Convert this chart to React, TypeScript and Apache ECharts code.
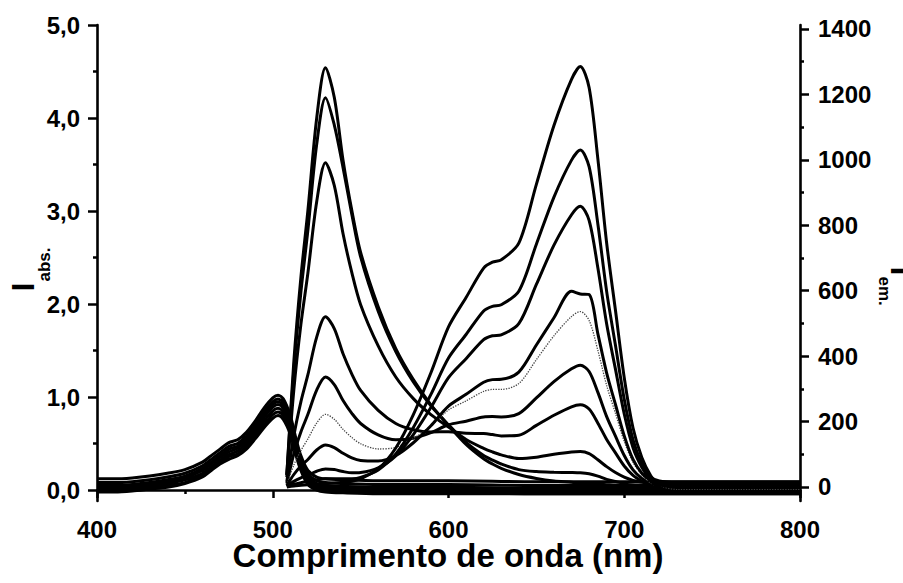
import { useEffect, useRef } from "react";
import * as echarts from "echarts";

// Wavelength grids (nm)
const ABS_WL = [400, 410, 420, 430, 440, 450, 460, 465, 470, 475, 480, 485, 490, 495, 500, 503, 506, 510, 513, 516, 520, 525, 530, 540, 560, 600, 650, 700, 750, 800];
const EM_WL = [508, 512, 516, 520, 525, 530, 535, 540, 545, 550, 560, 570, 580, 590, 600, 610, 620, 625, 630, 640, 650, 660, 670, 675, 680, 685, 690, 695, 700, 705, 710, 715, 720, 730, 760, 800];

// Absorption spectra (left axis)
const ABS_1 = [0.12, 0.12, 0.13, 0.15, 0.18, 0.22, 0.30, 0.37, 0.44, 0.51, 0.54, 0.62, 0.74, 0.88, 0.99, 1.02, 0.98, 0.80, 0.57, 0.37, 0.21, 0.14, 0.12, 0.11, 0.10, 0.10, 0.09, 0.09, 0.09, 0.09];
const ABS_2 = [0.08, 0.08, 0.09, 0.11, 0.14, 0.18, 0.26, 0.33, 0.40, 0.47, 0.50, 0.58, 0.70, 0.84, 0.95, 0.98, 0.94, 0.76, 0.53, 0.33, 0.17, 0.10, 0.08, 0.07, 0.06, 0.06, 0.05, 0.05, 0.05, 0.05];
const ABS_3 = [0.05, 0.05, 0.06, 0.08, 0.11, 0.15, 0.23, 0.30, 0.37, 0.44, 0.47, 0.55, 0.67, 0.81, 0.92, 0.95, 0.91, 0.73, 0.50, 0.30, 0.14, 0.07, 0.05, 0.04, 0.03, 0.03, 0.02, 0.02, 0.02, 0.02];
const ABS_4 = [0.03, 0.03, 0.04, 0.06, 0.09, 0.13, 0.21, 0.28, 0.35, 0.41, 0.45, 0.53, 0.64, 0.78, 0.89, 0.92, 0.88, 0.70, 0.48, 0.28, 0.12, 0.05, 0.03, 0.02, 0.01, 0.01, 0.00, 0.00, 0.00, 0.00];
const ABS_5 = [0.01, 0.01, 0.02, 0.04, 0.07, 0.11, 0.18, 0.25, 0.32, 0.38, 0.42, 0.50, 0.61, 0.74, 0.85, 0.88, 0.84, 0.66, 0.45, 0.25, 0.10, 0.03, 0.01, 0.00, -0.01, -0.01, -0.02, -0.02, -0.02, -0.02];
const ABS_6 = [-0.01, -0.01, 0.00, 0.02, 0.05, 0.08, 0.16, 0.23, 0.30, 0.36, 0.39, 0.47, 0.58, 0.70, 0.81, 0.84, 0.80, 0.63, 0.42, 0.23, 0.08, 0.01, -0.01, -0.02, -0.03, -0.03, -0.04, -0.04, -0.04, -0.04];
const ABS_7 = [-0.02, -0.02, -0.01, 0.01, 0.03, 0.07, 0.14, 0.21, 0.28, 0.33, 0.37, 0.44, 0.55, 0.67, 0.77, 0.80, 0.76, 0.60, 0.39, 0.21, 0.06, 0.00, -0.02, -0.03, -0.04, -0.04, -0.04, -0.04, -0.04, -0.04];

// Emission spectra (right axis)
const EM_1 = [38, 384, 640, 845, 1127, 1281, 1191, 999, 845, 717, 551, 423, 328, 251, 188, 130, 86, 70, 57, 38, 26, 18, 14, 11, 10, 8, 7, 6, 6, 6, 6, 6, 6, 6, 6, 6];
const EM_2 = [36, 357, 595, 785, 1047, 1190, 1107, 976, 833, 703, 537, 414, 321, 248, 190, 136, 96, 82, 70, 53, 47, 45, 44, 43, 40, 33, 23, 17, 10, 5, 2, 0, -3, -4, -4, -4];
const EM_3 = [30, 297, 496, 654, 872, 991, 922, 774, 655, 557, 431, 336, 270, 221, 183, 145, 118, 107, 98, 87, 91, 100, 107, 108, 102, 83, 62, 44, 30, 20, 15, 13, 12, 12, 12, 12];
const EM_4 = [16, 156, 260, 343, 458, 520, 484, 407, 345, 295, 234, 194, 175, 168, 169, 164, 163, 160, 156, 158, 188, 219, 245, 251, 238, 195, 145, 104, 64, 35, 17, 4, -6, -12, -12, -12];
const EM_5 = [10, 101, 168, 222, 296, 336, 313, 264, 225, 194, 159, 144, 149, 166, 190, 201, 214, 215, 214, 224, 272, 322, 361, 372, 353, 289, 215, 155, 96, 52, 26, 11, 4, 2, 2, 2];
const EM_6 = [7, 67, 111, 147, 195, 222, 207, 176, 151, 132, 116, 121, 148, 187, 235, 263, 292, 298, 298, 316, 389, 462, 521, 536, 509, 417, 310, 225, 139, 75, 37, 12, 0, -8, -8, -8];
const EM_7 = [4, 38, 64, 84, 113, 128, 120, 103, 89, 81, 79, 96, 135, 187, 247, 283, 320, 328, 329, 351, 434, 517, 598, 590, 588, 468, 348, 252, 156, 84, 42, 20, 10, 8, 8, 8];
const EM_8 = [2, 17, 28, 36, 48, 55, 53, 47, 43, 44, 58, 95, 160, 243, 334, 392, 450, 462, 465, 499, 619, 739, 832, 858, 815, 669, 498, 360, 223, 120, 60, 20, -5, -18, -18, -18];
const EM_9 = [1, 8, 13, 17, 22, 25, 25, 25, 25, 29, 52, 101, 182, 283, 394, 466, 538, 552, 557, 598, 742, 886, 999, 1030, 979, 803, 597, 433, 268, 144, 72, 31, 18, 15, 15, 15];
const EM_10 = [0, 3, 5, 7, 9, 10, 12, 14, 17, 25, 55, 119, 221, 349, 489, 579, 669, 687, 694, 745, 925, 1105, 1246, 1285, 1221, 1002, 745, 540, 334, 180, 90, 35, 0, -14, -14, -14];

const ABS_SERIES = [ABS_1, ABS_2, ABS_3, ABS_4, ABS_5, ABS_6, ABS_7];
const EM_SERIES = [EM_1, EM_2, EM_3, EM_4, EM_5, EM_6, EM_7, EM_8, EM_9, EM_10];
const EM_DOTTED = 5; // index of the spectrum drawn with a dotted line

// Axis ticks
const LEFT_TICKS = [0, 1, 2, 3, 4, 5];
const LEFT_MINOR = [0.5, 1.5, 2.5, 3.5, 4.5];
const RIGHT_TICKS = [0, 200, 400, 600, 800, 1000, 1200, 1400];
const RIGHT_MINOR = [100, 300, 500, 700, 900, 1100, 1300];

const FONT = "'Liberation Sans', Arial, Helvetica, sans-serif";
const INK = "#000";

function pairs(xs: number[], ys: number[]) {
  return xs.map((x, i) => [x, ys[i]]);
}

export default function App() {
  const ref = useRef<HTMLDivElement>(null);

  useEffect(() => {
    if (!ref.current) return;
    const chart = echarts.init(ref.current, undefined, { renderer: "svg" });

    const absMin = -0.118;
    const absMax = 5.0;
    const emMin = -43;
    const emMax = 1412;

    const baseLine = { show: true, lineStyle: { color: INK, width: 2.6 } };

    const series: any[] = [];
    ABS_SERIES.forEach((ys, i) => {
      series.push({
        name: "abs" + (i + 1),
        type: "line",
        xAxisIndex: 0,
        yAxisIndex: 0,
        data: pairs(ABS_WL, ys),
        showSymbol: false,
        smooth: 0.3,
        lineStyle: { color: INK, width: 3 },
        silent: true,
      });
    });
    EM_SERIES.forEach((ys, i) => {
      const dotted = i === EM_DOTTED;
      series.push({
        name: "em" + (i + 1),
        type: "line",
        xAxisIndex: 0,
        yAxisIndex: 1,
        data: pairs(EM_WL, ys),
        showSymbol: false,
        smooth: 0.3,
        lineStyle: dotted
          ? { color: "#444", width: 1.3, type: "dotted" }
          : { color: INK, width: 3 },
        silent: true,
      });
    });

    const labelStyle = {
      color: INK,
      fontFamily: FONT,
      fontSize: 24,
      fontWeight: "bold" as const,
    };

    chart.setOption({
      animation: false,
      backgroundColor: "#fff",
      grid: { left: 97, right: 103, top: 25, bottom: 82, containLabel: false },
      xAxis: [
        {
          type: "value",
          min: 400,
          max: 800,
          interval: 100,
          position: "bottom",
          axisLine: baseLine,
          axisTick: { show: true, inside: false, length: 8, lineStyle: { color: INK, width: 2.5 } },
          minorTick: { show: true, splitNumber: 2, length: 4, lineStyle: { color: INK, width: 2.5 } },
          axisLabel: { ...labelStyle, margin: 18, lineHeight: 20 },
          splitLine: { show: false },
        },
      ],
      yAxis: [
        {
          type: "value",
          min: absMin,
          max: absMax,
          position: "left",
          axisLine: baseLine,
          axisTick: {
            show: true,
            inside: false,
            length: 9,
            customValues: LEFT_TICKS,
            lineStyle: { color: INK, width: 2.5 },
          },
          axisLabel: {
            ...labelStyle,
            margin: 17,
            customValues: LEFT_TICKS,
            formatter: (v: number) => v.toFixed(1).replace(".", ","),
          },
          splitLine: { show: false },
        },
        {
          type: "value",
          min: emMin,
          max: emMax,
          position: "right",
          axisLine: baseLine,
          axisTick: {
            show: true,
            inside: false,
            length: 9,
            customValues: RIGHT_TICKS,
            lineStyle: { color: INK, width: 2.5 },
          },
          axisLabel: {
            ...labelStyle,
            margin: 18,
            customValues: RIGHT_TICKS,
            formatter: (v: number) => String(v),
          },
          splitLine: { show: false },
        },
        {
          type: "value",
          min: absMin,
          max: absMax,
          position: "left",
          axisLine: { show: false },
          axisTick: {
            show: true,
            inside: false,
            length: 4,
            customValues: LEFT_MINOR,
            lineStyle: { color: INK, width: 2.5 },
          },
          axisLabel: { show: false },
          splitLine: { show: false },
        },
        {
          type: "value",
          min: emMin,
          max: emMax,
          position: "right",
          axisLine: { show: false },
          axisTick: {
            show: true,
            inside: false,
            length: 4,
            customValues: RIGHT_MINOR,
            lineStyle: { color: INK, width: 2.5 },
          },
          axisLabel: { show: false },
          splitLine: { show: false },
        },
      ],
      graphic: [
        {
          type: "text",
          x: 448,
          y: 555,
          silent: true,
          style: {
            text: "Comprimento de onda (nm)",
            fill: INK,
            fontFamily: FONT,
            fontSize: 33,
            lineHeight: 26,
            fontWeight: "bold",
            align: "center",
            verticalAlign: "middle",
          },
        },
        {
          type: "group",
          x: 22.5,
          y: 291.5,
          rotation: Math.PI / 2,
          silent: true,
          children: [
            {
              type: "text",
              x: 0,
              y: 0,
              style: {
                text: "I",
                fill: INK,
                fontFamily: FONT,
                fontSize: 32,
                fontWeight: "bold",
                align: "left",
                verticalAlign: "middle",
              },
            },
            {
              type: "text",
              x: 10,
              y: 21.5,
              style: {
                text: "abs.",
                fill: INK,
                fontFamily: FONT,
                fontSize: 17,
                fontWeight: "bold",
                align: "left",
                verticalAlign: "middle",
              },
            },
          ],
        },
        {
          type: "group",
          x: 902,
          y: 266.5,
          rotation: -Math.PI / 2,
          silent: true,
          children: [
            {
              type: "text",
              x: 0,
              y: 0,
              style: {
                text: "I",
                fill: INK,
                fontFamily: FONT,
                fontSize: 32,
                fontWeight: "bold",
                align: "left",
                verticalAlign: "middle",
              },
            },
            {
              type: "text",
              x: 10,
              y: 18,
              style: {
                text: "em.",
                fill: INK,
                fontFamily: FONT,
                fontSize: 17,
                fontWeight: "bold",
                align: "left",
                verticalAlign: "middle",
              },
            },
          ],
        },
      ],
      series,
    });

    return () => {
      chart.dispose();
    };
  }, []);

  return (
    <div
      ref={ref}
      style={{
        position: "fixed",
        left: 0,
        top: 0,
        width: 903,
        height: 583,
        background: "#fff",
      }}
    />
  );
}
